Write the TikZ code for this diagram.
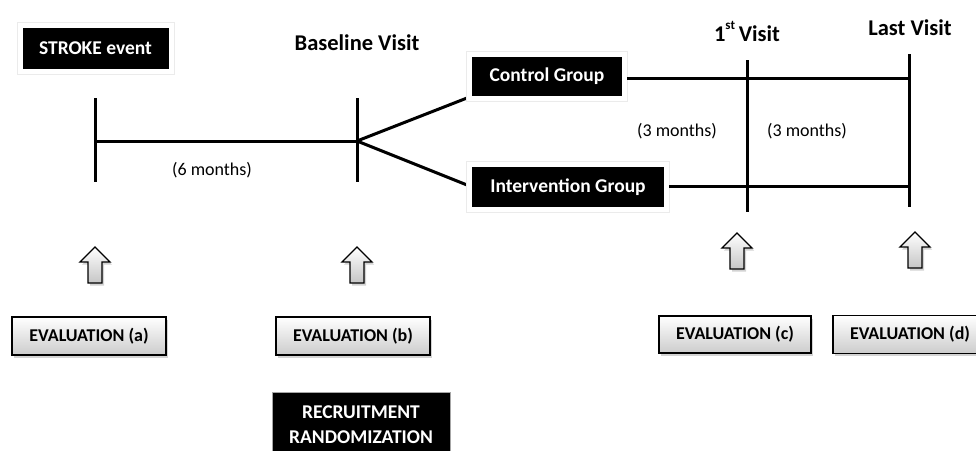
\documentclass[tikz,border=0pt]{standalone}
\usepackage{fontspec}
\setmainfont{Carlito}
\usetikzlibrary{shadows,calc}
\tikzset{
  x=1pt, y=-1pt,
  blackbox/.style={fill=black, draw=white, line width=5pt, text=white,
    font=\bfseries\fontsize{19.5}{23}\selectfont, inner sep=0pt,
    preaction={draw=gray!16, line width=7pt, rounded corners=1.5pt},
    drop shadow={shadow xshift=1.5pt, shadow yshift=-2pt, opacity=0.3, fill=gray}},
  evalbox/.style={draw=black, line width=1.3pt, top color=white, bottom color=gray!40,
    font=\bfseries\fontsize{18}{21}\selectfont, inner sep=0pt,
    minimum width=154pt, minimum height=38pt,
    drop shadow={shadow xshift=2pt, shadow yshift=-2.5pt, opacity=0.35, fill=gray}},
  recbox/.style={fill=black, draw=gray!70, line width=1pt, text=white, align=center,
    font=\bfseries\fontsize{19.5}{25}\selectfont, inner sep=0pt,
    minimum width=178pt, minimum height=64pt},
  title/.style={font=\bfseries\fontsize{22.5}{26}\selectfont, inner sep=0pt},
  months/.style={font=\fontsize{18}{21}\selectfont, inner sep=0pt},
  tline/.style={line width=3pt},
  uparrow/.pic={
    \path[draw=black, line width=1.3pt, line join=miter, top color=white, bottom color=gray!45,
      drop shadow={shadow xshift=2pt, shadow yshift=-2.5pt, opacity=0.35, fill=gray}]
      (0,-18) -- (15,-3) -- (7,-3) -- (7,18) -- (-7,18) -- (-7,-3) -- (-15,-3) -- cycle;
  }
}
\begin{document}
\begin{tikzpicture}
\useasboundingbox (0,0) rectangle (976,450);

% tick coordinates
\coordinate (aT) at (95,98);   \coordinate (aB) at (95,182);
\coordinate (bT) at (357,98);  \coordinate (bB) at (357,182);
\coordinate (aM) at (95,141);  \coordinate (bM) at (357,141);
\coordinate (cT) at (747,60);  \coordinate (cB) at (747,212);
\coordinate (dT) at (909,54);  \coordinate (dB) at (909,207);

% timeline lines
\draw[tline] (aT) -- (aB);
\draw[tline] (bT) -- (bB);
\draw[tline] (aM) -- (bM);
\draw[tline] (cT) -- (cB);
\draw[tline] (dT) -- (dB);

% nodes
\node[blackbox, minimum width=151pt, minimum height=46pt] (stroke) at (95.5,48.5) {STROKE event};
\draw[tline] (bM) -- (467,98) coordinate (ctrlend);
\draw[tline] (bM) -- (467,185) coordinate (intend);
\node[blackbox, minimum width=155pt, minimum height=44pt] (ctrl) at (547,76.5) {Control Group};
\node[blackbox, minimum width=197pt, minimum height=45pt] (int) at (568,187) {Intervention Group};

\draw[tline] (ctrl.east |- 0,78) -- (dT |- 0,78);
\draw[tline] (int.east |- 0,186) -- (dT |- 0,186);

\node[title] (base) at (357,43) {Baseline Visit};
\node[title] (first) at (747,31) {1\raisebox{1.1ex}{\fontsize{13}{13}\selectfont st}\,Visit};
\node[title] (last) at (910,28) {Last Visit};

\node[months] (m6) at (212,170) {(6 months)};
\node[months] (m3a) at (677,131) {(3 months)};
\node[months] (m3b) at (807,131) {(3 months)};

% up arrows
\pic at (95,265) {uparrow};
\pic at (357,265) {uparrow};
\pic at (737,251) {uparrow};
\pic at (915,250) {uparrow};

% evaluation boxes
\node[evalbox] (ea) at (89,336) {EVALUATION (a)};
\node[evalbox] (eb) at (353,336) {EVALUATION (b)};
\node[evalbox, minimum width=152pt, minimum height=37pt] (ec) at (735,334.5) {EVALUATION (c)};
\node[evalbox] (ed) at (910,334.5) {EVALUATION (d)};

\node[recbox] (rec) at (361,424.5) {RECRUITMENT\\RANDOMIZATION};
\end{tikzpicture}
\end{document}
